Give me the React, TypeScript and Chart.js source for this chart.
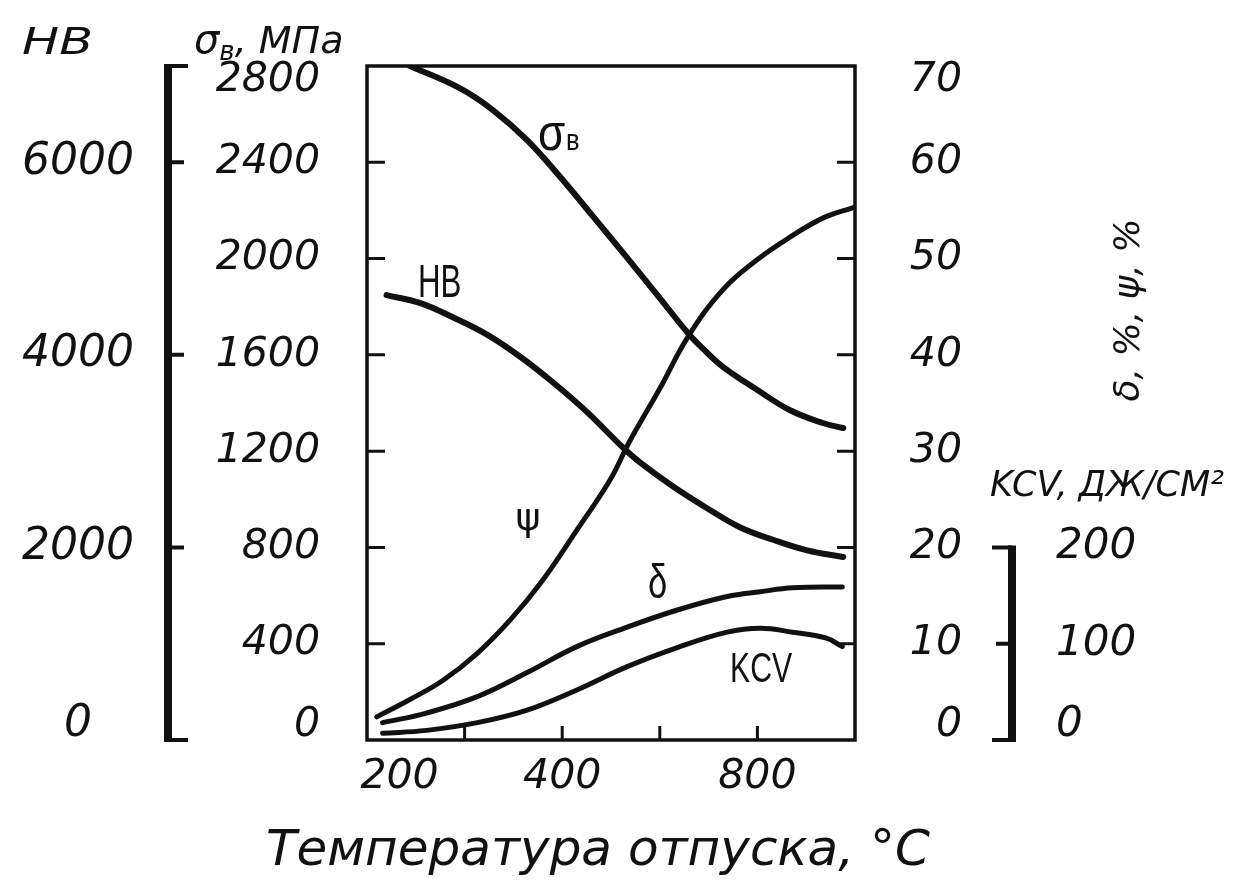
import React, { useEffect, useRef } from "react";
import { Chart, registerables } from "chart.js";

Chart.register(...registerables);

// ---- data ----
const sigmaT = [244, 295, 329, 364, 398, 432, 466, 500, 529, 547, 565, 600, 633, 667, 688];
const sigmaV = [2800, 2708, 2617, 2492, 2339, 2173, 2006, 1836, 1690, 1615, 1549, 1454, 1371, 1317, 1296];

const hbT = [220, 254, 288, 323, 357, 391, 425, 462, 480, 514, 548, 582, 616, 651, 688];
const hbV = [4620, 4540, 4390, 4210, 3980, 3710, 3410, 3040, 2880, 2630, 2410, 2210, 2080, 1970, 1900];

const psiT = [210, 244, 278, 313, 347, 380, 415, 449, 469, 500, 529, 565, 600, 633, 667, 698];
const psiV = [2.4, 4.2, 6.2, 9.0, 12.5, 16.6, 21.8, 27.0, 31.0, 36.5, 41.9, 46.8, 49.9, 52.2, 54.2, 55.3];

const deltaT = [216, 261, 313, 364, 415, 466, 518, 569, 603, 636, 687];
const deltaV = [1.8, 2.8, 4.5, 7.0, 9.7, 11.7, 13.5, 14.9, 15.4, 15.8, 15.9];

const kcvT = [216, 261, 313, 364, 415, 466, 518, 569, 603, 636, 670, 687];
const kcvV = [7, 10, 18, 31, 52, 76, 96, 112, 116, 112, 106, 97];

// ---- axes / ticks ----
const xTickValues = [200, 400, 600];
const xTickLabels = ["200", "400", "800"];
const xInnerTicks = [300, 400, 500, 600];
const sigmaTicks = [0, 400, 800, 1200, 1600, 2000, 2400, 2800];
const sigmaInnerTicks = [400, 800, 1200, 1600, 2000, 2400];
const hbTicks = [0, 2000, 4000, 6000];
const pctTicks = [0, 10, 20, 30, 40, 50, 60, 70];
const pctInnerTicks = [10, 20, 30, 40, 50, 60];
const kcvTicks = [0, 100, 200];

const xTitle = "Температура отпуска, °C";
const hbTitle = "HB";
const pctTitle = "δ, %, ψ, %";
const kcvTitle = "KCV, ДЖ/СМ²";

const INK = "#111";
const FAM = "'DejaVu Sans', sans-serif";

const pts = (xs: number[], ys: number[]) => xs.map((x, i) => ({ x, y: ys[i] }));

function condensed(ctx: CanvasRenderingContext2D, text: string, x: number, y: number, size: number, sx: number, family = "'Liberation Sans', sans-serif", style = "") {
  ctx.save();
  ctx.translate(x, y);
  ctx.scale(sx, 1);
  ctx.font = `${style}${size}px ${family}`;
  ctx.textAlign = "left";
  ctx.textBaseline = "alphabetic";
  ctx.fillText(text, 0, 0);
  ctx.restore();
}

const decor = {
  id: "decor",
  afterDraw(chart: any) {
    const { ctx, chartArea: a, scales } = chart;
    const x = scales.x, ys = scales.ySigma, yh = scales.yHB, yp = scales.yPct, yk = scales.yKCV;
    ctx.save();
    ctx.strokeStyle = INK;
    ctx.fillStyle = INK;

    // frame
    ctx.lineWidth = 3.5;
    ctx.strokeRect(a.left, a.top, a.right - a.left, a.bottom - a.top);

    // inner ticks
    ctx.lineWidth = 3;
    ctx.beginPath();
    sigmaInnerTicks.forEach((v) => {
      const py = ys.getPixelForValue(v);
      ctx.moveTo(a.left, py);
      ctx.lineTo(a.left + 18, py);
    });
    pctInnerTicks.forEach((v) => {
      const py = yp.getPixelForValue(v);
      ctx.moveTo(a.right, py);
      ctx.lineTo(a.right - 18, py);
    });
    xInnerTicks.forEach((v) => {
      const px = x.getPixelForValue(v);
      ctx.moveTo(px, a.bottom);
      ctx.lineTo(px, a.bottom - 14);
    });
    ctx.stroke();

    // HB bracket axis
    const bx = yh.right - 39;
    const bt = yh.getPixelForValue(7000);
    const bb = yh.getPixelForValue(0);
    ctx.lineWidth = 8;
    ctx.beginPath();
    ctx.moveTo(bx, bt - 2);
    ctx.lineTo(bx, bb + 2);
    ctx.stroke();
    ctx.lineWidth = 4;
    ctx.beginPath();
    ctx.moveTo(bx, bt);
    ctx.lineTo(bx + 20, bt);
    ctx.moveTo(bx, bb);
    ctx.lineTo(bx + 20, bb);
    hbTicks.filter((v) => v > 0).forEach((v) => {
      const py = yh.getPixelForValue(v);
      ctx.moveTo(bx, py);
      ctx.lineTo(bx + 16, py);
    });
    ctx.stroke();

    // KCV bracket axis
    const kx = yk.left + 50;
    const kt = yk.getPixelForValue(kcvTicks[kcvTicks.length - 1]);
    const kb = yk.getPixelForValue(0);
    ctx.lineWidth = 8;
    ctx.beginPath();
    ctx.moveTo(kx, kt - 2);
    ctx.lineTo(kx, kb + 2);
    ctx.stroke();
    ctx.lineWidth = 4;
    ctx.beginPath();
    ctx.moveTo(kx, kt);
    ctx.lineTo(kx - 20, kt);
    ctx.moveTo(kx, kb);
    ctx.lineTo(kx - 20, kb);
    kcvTicks.filter((v) => v > 0 && v < kcvTicks[kcvTicks.length - 1]).forEach((v) => {
      const py = yk.getPixelForValue(v);
      ctx.moveTo(kx, py);
      ctx.lineTo(kx - 16, py);
    });
    ctx.stroke();

    // axis titles (top-left)
    condensed(ctx, hbTitle, 14, 46, 38, 1.3, FAM, "italic ");

    let tx = 186;
    ctx.textBaseline = "alphabetic";
    ctx.textAlign = "left";
    ctx.font = `italic 40px ${FAM}`;
    ctx.fillText("σ", tx, 45);
    tx += ctx.measureText("σ").width;
    ctx.font = `italic 26px ${FAM}`;
    ctx.fillText("в", tx, 52);
    tx += ctx.measureText("в").width;
    ctx.font = `italic 38px ${FAM}`;
    ctx.fillText(", МПа", tx, 45);

    // right rotated title
    ctx.save();
    ctx.translate(1122, 302);
    ctx.rotate(-Math.PI / 2);
    ctx.textAlign = "center";
    ctx.textBaseline = "middle";
    ctx.font = `italic 36px ${FAM}`;
    ctx.fillText(pctTitle, 0, 0);
    ctx.restore();

    // KCV title
    ctx.font = `italic 35px ${FAM}`;
    ctx.textAlign = "left";
    ctx.textBaseline = "alphabetic";
    ctx.fillText(kcvTitle, 982, 488);

    // x title
    ctx.font = `italic 50px ${FAM}`;
    ctx.textAlign = "center";
    ctx.textBaseline = "middle";
    ctx.fillText(xTitle, 590, 844);

    // curve labels
    ctx.textBaseline = "alphabetic";
    condensed(ctx, "σ", 530, 142, 52, 0.85);
    condensed(ctx, "в", 558, 142, 30, 0.85);
    condensed(ctx, "HB", 410, 289, 46, 0.68);
    ctx.font = `38px ${FAM}`;
    ctx.textAlign = "center";
    ctx.fillText("ψ", 520, 522);
    condensed(ctx, "δ", 640, 590, 48, 0.72);
    condensed(ctx, "KCV", 722, 674, 42, 0.72);

    ctx.restore();
  },
};

function setTicks(values: number[]) {
  return (s: any) => {
    s.ticks = values.map((v) => ({ value: v }));
  };
}

function fixWidth(w: number) {
  return (s: any) => {
    s.width = w;
    s.paddingTop = 0;
    s.paddingBottom = 0;
  };
}

function tickFont(size: number) {
  return { family: FAM, size, style: "italic" as const, lineHeight: 0.7 };
}

// top label sits just below the frame corner, bottom zero slightly above it
function edgeLabels(values: number[]) {
  const top = values[values.length - 1];
  return (v: any) => {
    const s = String(v);
    if (Number(v) === top) return ["", s];
    if (Number(v) === 0) return [s, ""];
    return s;
  };
}

export default function App() {
  const ref = useRef<HTMLCanvasElement | null>(null);

  useEffect(() => {
    if (!ref.current) return;
    const line = (data: any, yAxisID: string, w: number) => ({
      data,
      yAxisID,
      xAxisID: "x",
      borderColor: INK,
      backgroundColor: INK,
      borderWidth: w,
      pointRadius: 0,
      fill: false,
      tension: 0.4,
      borderCapStyle: "round" as const,
      borderJoinStyle: "round" as const,
    });

    const chart = new Chart(ref.current, {
      type: "line",
      data: {
        datasets: [
          { label: "σв", ...line(pts(sigmaT, sigmaV), "ySigma", 6) },
          { label: "HB", ...line(pts(hbT, hbV), "yHB", 6) },
          { label: "ψ", ...line(pts(psiT, psiV), "yPct", 5) },
          { label: "δ", ...line(pts(deltaT, deltaV), "yPct", 5) },
          { label: "KCV", ...line(pts(kcvT, kcvV), "yKCV", 5) },
        ],
      },
      options: {
        responsive: false,
        animation: false,
        devicePixelRatio: 1,
        layout: { padding: { top: 58, left: 0, right: 0, bottom: 0 } },
        plugins: { legend: { display: false }, tooltip: { enabled: false } },
        scales: {
          x: {
            type: "linear",
            position: "bottom",
            min: 200,
            max: 700,
            afterBuildTicks: setTicks(xTickValues),
            afterFit: (s: any) => { s.height = 136; s.paddingLeft = 0; s.paddingRight = 0; },
            grid: { display: false, drawTicks: false },
            border: { display: false },
            ticks: {
              autoSkip: false,
              maxRotation: 0,
              padding: 13,
              color: INK,
              font: { family: FAM, size: 41, style: "italic" as const },
              callback: (v: any) => {
                const i = xTickValues.indexOf(Number(v));
                if (i < 0) return "";
                return i === 0 ? "     " + xTickLabels[i] : xTickLabels[i];
              },
            },
          },
          ySigma: {
            type: "linear",
            position: "left",
            weight: 1,
            min: 0,
            max: 2800,
            afterBuildTicks: setTicks(sigmaTicks),
            afterFit: fixWidth(160),
            grid: { display: false, drawTicks: false },
            border: { display: false },
            ticks: { padding: 47, color: INK, font: tickFont(41), callback: edgeLabels(sigmaTicks) },
          },
          yHB: {
            type: "linear",
            position: "left",
            weight: 2,
            min: 0,
            max: 7000,
            afterBuildTicks: setTicks(hbTicks),
            afterFit: fixWidth(199),
            grid: { display: false, drawTicks: false },
            border: { display: false },
            ticks: { padding: 73, crossAlign: "center", color: INK, font: tickFont(44), callback: edgeLabels([7000]) },
          },
          yPct: {
            type: "linear",
            position: "right",
            weight: 1,
            min: 0,
            max: 70,
            afterBuildTicks: setTicks(pctTicks),
            afterFit: fixWidth(107),
            grid: { display: false, drawTicks: false },
            border: { display: false },
            ticks: { crossAlign: "far", color: INK, font: tickFont(41), callback: edgeLabels(pctTicks) },
          },
          yKCV: {
            type: "linear",
            position: "right",
            weight: 2,
            min: 0,
            max: 700,
            afterBuildTicks: setTicks(kcvTicks),
            afterFit: fixWidth(267),
            grid: { display: false, drawTicks: false },
            border: { display: false },
            ticks: { padding: 94, color: INK, font: tickFont(42), callback: edgeLabels([700]) },
          },
        },
      },
      plugins: [decor],
    });
    return () => chart.destroy();
  }, []);

  return (
    <div style={{ width: 1221, height: 868 }}>
      <canvas ref={ref} width={1221} height={868} />
    </div>
  );
}
